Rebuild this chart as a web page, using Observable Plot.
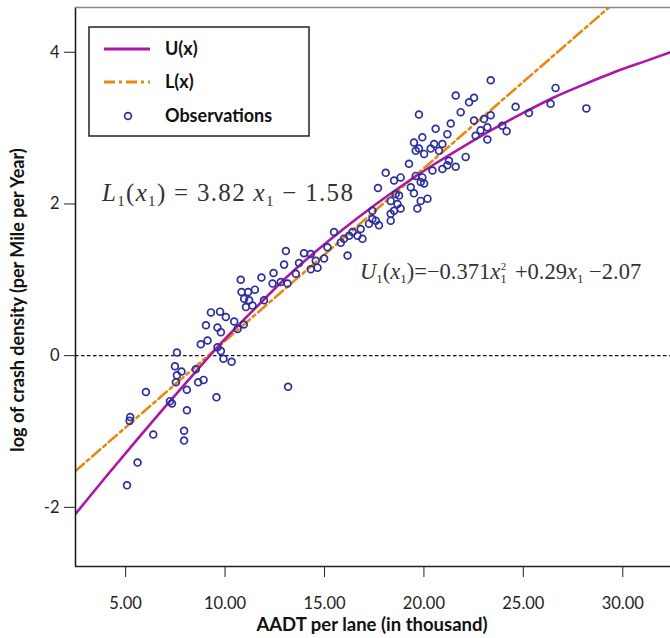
<!DOCTYPE html>
<html>
<head>
<meta charset="utf-8">
<script src="https://cdn.jsdelivr.net/npm/d3@7"></script>
<script src="https://cdn.jsdelivr.net/npm/@observablehq/plot@0.6"></script>
<style>
  html, body { margin: 0; padding: 0; background: #fff; overflow: hidden; }
  #chart { width: 670px; height: 638px; }
</style>
</head>
<body>
<div id="chart"></div>
<script>
// ---- data ----
const xTicks = [5, 10, 15, 20, 25, 30];
const yTicks = [-2, 0, 2, 4];

// Observations (AADT per lane, log crash density)
const obsX = [9.04, 9.62, 9.79, 10.63, 10.94, 8.78, 9.12, 9.62, 7.58, 9.79, 9.92, 10.33, 7.48, 7.81, 8.53, 7.58, 7.53, 8.65, 8.92, 6.02, 8.08, 9.57, 7.23, 7.33, 8.08, 5.23, 5.20, 7.94, 7.94, 6.39, 5.60, 5.07, 13.17,
  13.06, 13.72, 12.97, 12.44, 11.83, 10.79, 10.83, 11.16, 11.50, 10.96, 11.21, 13.14, 12.39, 12.80, 11.96, 11.05, 11.38, 9.29, 9.75, 10.04, 10.46,
  18.08, 18.50, 18.83, 17.69, 19.34, 19.50, 18.33, 18.67, 18.83, 18.50, 18.33, 17.41, 17.58, 17.74, 18.33, 17.24, 17.41, 16.82, 16.66, 16.91, 16.41, 15.48, 15.98, 16.24, 15.82, 16.16, 15.15, 14.31, 13.97, 14.98, 14.56, 14.31, 14.65, 13.56,
  19.75, 21.85, 20.59, 21.35, 19.92, 19.50, 21.18, 20.51, 20.93, 19.59, 19.75, 20.01, 20.34, 20.76, 22.10, 21.26, 21.18, 21.60, 19.25, 20.43, 20.93, 19.59, 19.92, 19.84, 20.01, 18.58, 18.75, 20.18, 19.84, 19.67, 22.52, 23.02, 23.36, 23.19, 22.85, 22.60, 23.19,
  23.36, 21.60, 22.27, 22.52, 26.62, 28.17, 24.61, 25.28, 26.37, 23.94, 24.16];
const obsY = [0.40, 0.37, 0.31, 0.35, 0.41, 0.15, 0.20, 0.11, 0.04, 0.06, -0.04, -0.08, -0.14, -0.21, -0.18, -0.26, -0.35, -0.35, -0.32, -0.48, -0.45, -0.55, -0.60, -0.63, -0.72, -0.81, -0.86, -0.99, -1.12, -1.04, -1.41, -1.71, -0.41,
  1.38, 1.22, 1.20, 1.09, 1.03, 1.00, 0.84, 0.84, 0.87, 0.75, 0.73, 0.95, 0.95, 0.97, 0.73, 0.64, 0.66, 0.57, 0.58, 0.51, 0.45,
  2.41, 2.31, 2.35, 2.21, 2.22, 2.14, 2.04, 2.00, 1.94, 1.91, 1.87, 1.91, 1.78, 1.72, 1.78, 1.74, 1.80, 1.67, 1.58, 1.54, 1.63, 1.63, 1.54, 1.58, 1.49, 1.32, 1.43, 1.34, 1.35, 1.28, 1.25, 1.14, 1.16, 1.08,
  3.18, 3.21, 2.99, 3.06, 2.88, 2.81, 2.92, 2.79, 2.79, 2.70, 2.73, 2.66, 2.73, 2.70, 2.62, 2.57, 2.51, 2.49, 2.53, 2.44, 2.46, 2.37, 2.35, 2.29, 2.27, 2.13, 2.11, 2.07, 2.04, 1.94, 3.10, 3.12, 3.17, 3.01, 2.97, 2.90, 2.85,
  3.63, 3.43, 3.34, 3.40, 3.53, 3.26, 3.28, 3.20, 3.32, 3.03, 2.96];

// U(x) curve, points
const uX = [2.5, 4, 5.5, 7, 8.5, 10, 11.5, 13, 14.5, 16, 17.5, 19, 20.5, 22, 23.5, 25, 26.5, 28, 29.5, 31, 32.4];
const uY = [-2.08, -1.60, -1.13, -0.67, -0.22, 0.22, 0.62, 1.01, 1.36, 1.68, 1.98, 2.26, 2.52, 2.76, 2.99, 3.20, 3.40, 3.57, 3.73, 3.87, 4.00];

// L(x) straight line, end points
const lX = [2.48, 29.3];
const lY = [-1.52, 4.59];

const xDomain = [2.48, 32.4];
const yDomain = [-2.78, 4.59];

const purple = "#ae16a4";
const orange = "#e8890f";
const blue = "#2b2f9c";

const obs = obsX.map((x, i) => ({x, y: obsY[i]}));
const uData = uX.map((x, i) => ({x, y: uY[i]}));
const lData = lX.map((x, i) => ({x, y: lY[i]}));

const plot = Plot.plot({
  width: 670,
  height: 638,
  marginLeft: 75,
  marginRight: 0,
  marginTop: 7,
  marginBottom: 72,
  style: {fontFamily: "Lato, sans-serif", background: "#fff"},
  x: {domain: xDomain},
  y: {domain: yDomain},
  marks: [
    Plot.ruleY([0], {stroke: "#111", strokeWidth: 1.3, strokeDasharray: "3.5,2.5"}),
    Plot.line(lData, {x: "x", y: "y", stroke: orange, strokeWidth: 2.6, strokeDasharray: "11,4,3,4", clip: true}),
    Plot.line(uData, {x: "x", y: "y", stroke: purple, strokeWidth: 2.6, curve: "natural", clip: true}),
    Plot.dot(obs, {x: "x", y: "y", r: 3.4, stroke: blue, strokeWidth: 1.7, fill: "none"}),
    Plot.ruleX([xDomain[0]], {stroke: "#111", strokeWidth: 1.5}),
    Plot.ruleY([yDomain[0]], {stroke: "#222", strokeWidth: 1.5}),
    Plot.ruleY([yDomain[1]], {stroke: "#888", strokeWidth: 1.5}),
    Plot.axisX({ticks: xTicks, tickFormat: d => d.toFixed(2), tickSize: 11, tickPadding: 20, fontSize: 16.5, label: null, color: "#222"}),
    Plot.axisY({ticks: yTicks, tickFormat: d => String(d), tickSize: 11, tickPadding: 5, fontSize: 16.5, label: null, color: "#222"})
  ]
});
document.getElementById("chart").appendChild(plot);

// ---- legend, equations and axis titles ----
const svg = d3.select(plot);
const g = svg.append("g").attr("text-anchor", "start");

// legend box
g.append("rect").attr("x", 89).attr("y", 27).attr("width", 220).attr("height", 109)
  .attr("fill", "#fff").attr("stroke", "#222").attr("stroke-width", 1.5);
const legendRows = [
  {label: "U(x)", y: 49, kind: "solid"},
  {label: "L(x)", y: 82, kind: "dashdot"},
  {label: "Observations", y: 116, kind: "dot"}
];
legendRows.forEach(r => {
  if (r.kind === "solid") {
    g.append("line").attr("x1", 104).attr("x2", 150).attr("y1", r.y).attr("y2", r.y)
      .attr("stroke", purple).attr("stroke-width", 3);
  } else if (r.kind === "dashdot") {
    g.append("line").attr("x1", 104).attr("x2", 150).attr("y1", r.y).attr("y2", r.y)
      .attr("stroke", orange).attr("stroke-width", 3).attr("stroke-dasharray", "11,4,3,4");
  } else {
    g.append("circle").attr("cx", 128).attr("cy", r.y).attr("r", 3.4)
      .attr("fill", "none").attr("stroke", blue).attr("stroke-width", 1.7);
  }
  g.append("text").attr("x", 165).attr("y", r.y).attr("dy", "0.35em")
    .attr("font-family", "Lato, sans-serif").attr("font-weight", "bold").attr("font-size", 18)
    .attr("fill", "#111").text(r.label);
});

// L equation
const eqL = g.append("text").attr("x", 102).attr("y", 201)
  .attr("font-family", "'Liberation Serif', 'DejaVu Serif', serif").attr("font-size", 25)
  .attr("fill", "#333").attr("letter-spacing", "1.3");
eqL.append("tspan").attr("font-style", "italic").text("L");
eqL.append("tspan").attr("font-size", 15).attr("dy", 5).text("1");
eqL.append("tspan").attr("dy", -5).text("(");
eqL.append("tspan").attr("font-style", "italic").text("x");
eqL.append("tspan").attr("font-size", 15).attr("dy", 5).text("1");
eqL.append("tspan").attr("dy", -5).text(") = 3.82 ");
eqL.append("tspan").attr("font-style", "italic").text("x");
eqL.append("tspan").attr("font-size", 15).attr("dy", 5).text("1");
eqL.append("tspan").attr("dy", -5).text(" − 1.58");

// U equation
const eqU = g.append("text").attr("x", 360).attr("y", 279)
  .attr("font-family", "'Liberation Serif', 'DejaVu Serif', serif").attr("font-size", 22.5)
  .attr("fill", "#333").attr("letter-spacing", "0");
eqU.append("tspan").attr("font-style", "italic").text("U");
eqU.append("tspan").attr("font-size", 13).attr("dy", 4).text("1");
eqU.append("tspan").attr("dy", -4).text("(");
eqU.append("tspan").attr("font-style", "italic").text("x");
eqU.append("tspan").attr("font-size", 13).attr("dy", 4).text("1");
eqU.append("tspan").attr("dy", -4).text(")=−0.371");
eqU.append("tspan").attr("font-style", "italic").text("x");
eqU.append("tspan").attr("font-size", 13).attr("dy", 4).text("1");
eqU.append("tspan").attr("font-size", 11).attr("dy", -13).attr("dx", -6).text("2");
eqU.append("tspan").attr("dy", 9).attr("dx", 3).text(" +0.29");
eqU.append("tspan").attr("font-style", "italic").text("x");
eqU.append("tspan").attr("font-size", 13).attr("dy", 4).text("1");
eqU.append("tspan").attr("dy", -4).text(" −2.07");

// axis titles
g.append("text").attr("x", 372).attr("y", 631).attr("text-anchor", "middle")
  .attr("font-family", "Lato, sans-serif").attr("font-weight", "bold").attr("font-size", 18.5)
  .attr("fill", "#111").text("AADT per lane (in thousand)");
g.append("text").attr("transform", "translate(24,300) rotate(-90)").attr("text-anchor", "middle")
  .attr("font-family", "Lato, sans-serif").attr("font-weight", "bold").attr("font-size", 18)
  .attr("fill", "#111").text("log of crash density (per Mile per Year)");
</script>
</body>
</html>
